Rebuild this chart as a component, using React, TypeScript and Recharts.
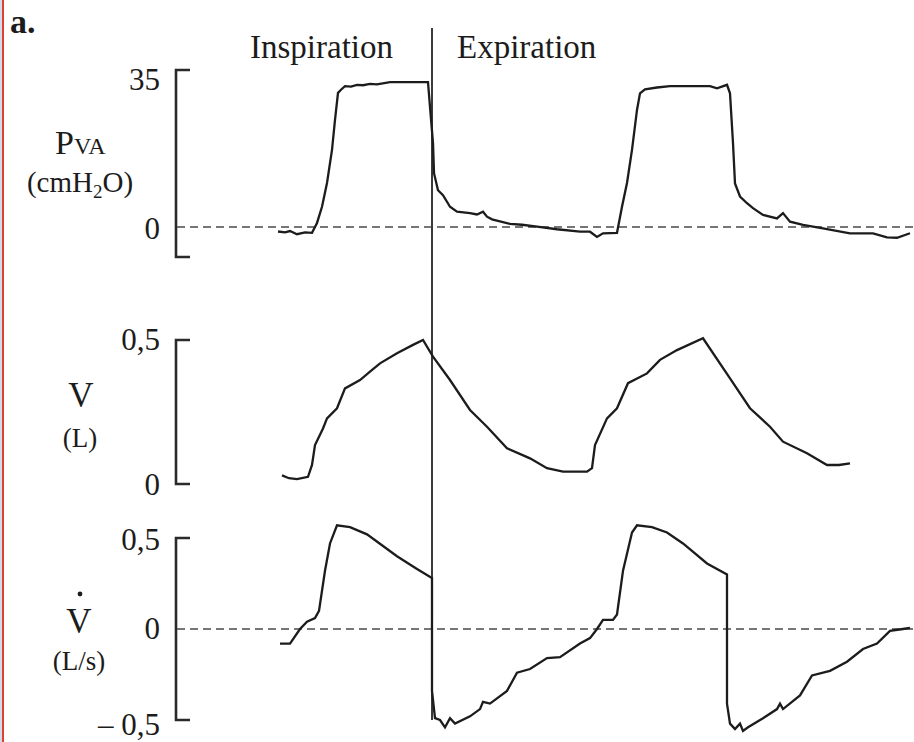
import React from 'react';
import { LineChart, Line, XAxis, YAxis, ReferenceLine } from 'recharts';

// time in s (~100 px per s on the original recording)
const pvaTrace: [number, number][] = [
  [1.01, -1.0], [1.08, -1.2], [1.13, -0.9], [1.2, -1.6], [1.28, -1.2], [1.35, -1.3],
  [1.4, 0.9], [1.45, 4.5], [1.5, 9.8], [1.55, 17.2], [1.58, 23.9], [1.61, 29.9],
  [1.64, 30.6], [1.68, 31.4], [1.74, 31.3], [1.8, 31.7], [1.86, 31.6], [1.93, 31.9],
  [2.0, 31.8], [2.13, 32.3], [2.51, 32.3], [2.53, 26.8], [2.56, 18.7], [2.57, 12.0],
  [2.61, 8.2], [2.66, 7.1], [2.73, 4.5], [2.8, 3.4], [2.93, 3.1], [3.0, 2.8],
  [3.06, 3.4], [3.1, 2.3], [3.15, 1.7], [3.33, 0.7], [3.45, 0.5], [3.6, 0.1],
  [3.8, -0.5], [4.03, -1.05], [4.13, -1.05], [4.2, -2.2], [4.26, -1.4], [4.4, -1.3],
  [4.45, 4.5], [4.5, 9.8], [4.55, 17.2], [4.6, 26.1], [4.63, 29.8], [4.68, 30.7],
  [4.8, 31.1], [4.93, 31.4], [5.33, 31.4], [5.4, 30.9], [5.5, 31.7], [5.53, 29.8],
  [5.56, 18.7], [5.58, 9.7], [5.63, 6.8], [5.7, 5.3], [5.76, 4.2], [5.86, 2.7],
  [6.0, 1.9], [6.06, 3.1], [6.13, 1.2], [6.26, 0.45], [6.46, -0.3], [6.73, -1.4],
  [6.96, -1.4], [7.1, -2.3], [7.2, -2.4], [7.33, -1.4],
];

const volumeTrace: [number, number][] = [
  [1.05, 0.03], [1.12, 0.02], [1.2, 0.017], [1.31, 0.025], [1.35, 0.066], [1.38, 0.135],
  [1.46, 0.193], [1.5, 0.228], [1.6, 0.263], [1.68, 0.332], [1.83, 0.361], [1.93, 0.39],
  [2.03, 0.419], [2.2, 0.454], [2.36, 0.483], [2.46, 0.5], [2.56, 0.442], [2.73, 0.361],
  [2.93, 0.257], [3.1, 0.199], [3.3, 0.124], [3.53, 0.089], [3.7, 0.055], [3.86, 0.043],
  [4.1, 0.043], [4.15, 0.055], [4.18, 0.135], [4.3, 0.228], [4.4, 0.263], [4.51, 0.35],
  [4.7, 0.384], [4.83, 0.431], [5.0, 0.465], [5.26, 0.506], [5.53, 0.367], [5.73, 0.263],
  [5.93, 0.199], [6.06, 0.147], [6.3, 0.107], [6.5, 0.066], [6.62, 0.066], [6.73, 0.072],
];

const flowTrace: [number, number][] = [
  [1.03, -0.08], [1.13, -0.08], [1.23, 0.0], [1.3, 0.04], [1.38, 0.06], [1.42, 0.1],
  [1.48, 0.32], [1.53, 0.47], [1.6, 0.57], [1.73, 0.56], [1.9, 0.52], [2.05, 0.46],
  [2.2, 0.4], [2.4, 0.33], [2.52, 0.29], [2.55, 0.28], [2.55, -0.34], [2.58, -0.49],
  [2.63, -0.5], [2.68, -0.54], [2.73, -0.49], [2.78, -0.52], [2.93, -0.48], [3.03, -0.44],
  [3.06, -0.4], [3.13, -0.41], [3.3, -0.34], [3.4, -0.24], [3.53, -0.22], [3.7, -0.16],
  [3.83, -0.155], [4.03, -0.08], [4.13, -0.05], [4.2, 0.0], [4.26, 0.05], [4.36, 0.05],
  [4.4, 0.08], [4.46, 0.32], [4.55, 0.53], [4.6, 0.57], [4.75, 0.56], [4.9, 0.53],
  [5.06, 0.47], [5.3, 0.36], [5.5, 0.3], [5.5, -0.41], [5.53, -0.52], [5.58, -0.55],
  [5.63, -0.52], [5.66, -0.56], [5.71, -0.54], [5.86, -0.49], [6.0, -0.44], [6.03, -0.41],
  [6.06, -0.44], [6.23, -0.365], [6.35, -0.255], [6.53, -0.23], [6.7, -0.18], [6.86, -0.11],
  [7.0, -0.08], [7.13, -0.01], [7.26, 0.0], [7.33, 0.006],
];

const pvaTicks = [0, 35];
const volumeTicks = [0, 0.5];
const flowTicks = [-0.5, 0, 0.5];

// end of inspiration (s)
const inspirationEnd = 2.55;

const INK = '#1c1c1c';
const SERIF = '"Liberation Serif", "Times New Roman", serif';
const W = 914;
const H = 742;
const PLOT = { top: 28, bottom: 742, left: 177 };
const T_MAX = 7.37;
const AXIS_W = 1;

// all three traces share one plot area; each y domain is stretched so that
// its bracket lands on its own band of the page
function fitDomain(hi: number, yHi: number, lo: number, yLo: number): [number, number] {
  const k = (yLo - yHi) / (hi - lo);
  return [lo - (PLOT.bottom - yLo) / k, hi + (yHi - PLOT.top) / k];
}
const pvaDomain = fitDomain(35, 70, 0, 227);
const volumeDomain = fitDomain(0.5, 340, 0, 484);
const flowDomain = fitDomain(0.5, 538, -0.5, 720);

const rows = (trace: [number, number][]) => trace.map(([t, v]) => ({ t, v }));

const tickLabel = (v: number) => (v < 0 ? '\u2013 ' : '') + String(Math.abs(v)).replace('.', ',');

const AxisTick = (props: any) => {
  const { y, payload, lift = 10 } = props;
  return (
    <text x={PLOT.left - 17} y={y} dy={lift} textAnchor="end" fontFamily={SERIF} fontSize={31} fill={INK}>
      {tickLabel(payload.value)}
    </text>
  );
};

const Bracket = (props: any) => {
  const { x1, y1, y2 } = props;
  const top = Math.min(y1, y2);
  const bottom = Math.max(y1, y2);
  const x = x1 - 1;
  return <path d={`M${x + 14},${top}H${x}V${bottom}H${x + 14}`} fill="none" stroke="#2a2a2a" strokeWidth={2.6} />;
};

const bracket = (id: string, lo: number, hi: number) => (
  <ReferenceLine
    yAxisId={id}
    segment={[{ x: 0, y: hi }, { x: 0, y: lo }]}
    shape={Bracket}
  />
);

const App: React.FC = () => {
  return (
    <div style={{ position: 'absolute', left: 0, top: 0, width: W, height: H, background: '#fff' }}>
      <LineChart width={W} height={H} margin={{ top: PLOT.top, right: 0, bottom: 0, left: PLOT.left - 3 * AXIS_W }}>
        <XAxis dataKey="t" type="number" domain={[0, T_MAX]} hide allowDataOverflow />
        <YAxis yAxisId="p" type="number" domain={pvaDomain} ticks={pvaTicks} width={AXIS_W} allowDataOverflow
          interval={0} axisLine={false} tickLine={false}
          tick={(p: any) => <AxisTick {...p} lift={p.payload.value === 35 ? 20 : 12} />} />
        <YAxis yAxisId="v" type="number" domain={volumeDomain} ticks={volumeTicks} width={AXIS_W} allowDataOverflow
          interval={0} axisLine={false} tickLine={false}
          tick={(p: any) => <AxisTick {...p} lift={p.payload.value === 0 ? 11 : 10} />} />
        <YAxis yAxisId="f" type="number" domain={flowDomain} ticks={flowTicks} width={AXIS_W} allowDataOverflow
          interval={0} axisLine={false} tickLine={false}
          tick={(p: any) => <AxisTick {...p} lift={p.payload.value < 0 ? 15 : p.payload.value > 0 ? 12 : 10} />} />

        {bracket('p', -6.7, 35)}
        {bracket('v', 0, 0.5)}
        {bracket('f', -0.5, 0.5)}

        <ReferenceLine yAxisId="p" y={0} stroke="#4a4a4a" strokeWidth={1.6} strokeDasharray="8 5" />
        <ReferenceLine yAxisId="f" y={0} stroke="#4a4a4a" strokeWidth={1.6} strokeDasharray="8 5" />
        <ReferenceLine yAxisId="f" stroke="#3a3a3a" strokeWidth={2}
          segment={[{ x: inspirationEnd, y: flowDomain[1] }, { x: inspirationEnd, y: -0.5 }]} />

        <Line data={rows(pvaTrace)} dataKey="v" yAxisId="p" type="linear" dot={false}
          stroke={INK} strokeWidth={2.3} isAnimationActive={false} />
        <Line data={rows(volumeTrace)} dataKey="v" yAxisId="v" type="linear" dot={false}
          stroke={INK} strokeWidth={2.3} isAnimationActive={false} />
        <Line data={rows(flowTrace)} dataKey="v" yAxisId="f" type="linear" dot={false}
          stroke={INK} strokeWidth={2.3} isAnimationActive={false} />
      </LineChart>

      <svg width={W} height={H} style={{ position: 'absolute', left: 0, top: 0, pointerEvents: 'none' }}
        fontFamily={SERIF} fill={INK}>
        <rect x={0} y={0} width={2} height={H} fill="#cfdcf0" />
        <rect x={2} y={0} width={2} height={H} fill="#e2402f" />
        <text x={10} y={33} fontSize={34} fontWeight="bold">a.</text>
        <text x={250} y={58} fontSize={33}>Inspiration</text>
        <text x={457} y={58} fontSize={33}>Expiration</text>

        <text x={55} y={154} fontSize={34}>P<tspan fontSize={24}>VA</tspan></text>
        <text x={80} y={192} fontSize={29} textAnchor="middle">(cmH<tspan fontSize={19} dy={6}>2</tspan><tspan dy={-6}>O)</tspan></text>

        <text x={81} y={407} fontSize={35} textAnchor="middle">V</text>
        <text x={80} y={447} fontSize={27} textAnchor="middle">(L)</text>

        <text x={79} y={633} fontSize={35} textAnchor="middle">V</text>
        <circle cx={80} cy={594} r={2.4} />
        <text x={79} y={670} fontSize={27} textAnchor="middle">(L/s)</text>
      </svg>
    </div>
  );
};

export default App;
